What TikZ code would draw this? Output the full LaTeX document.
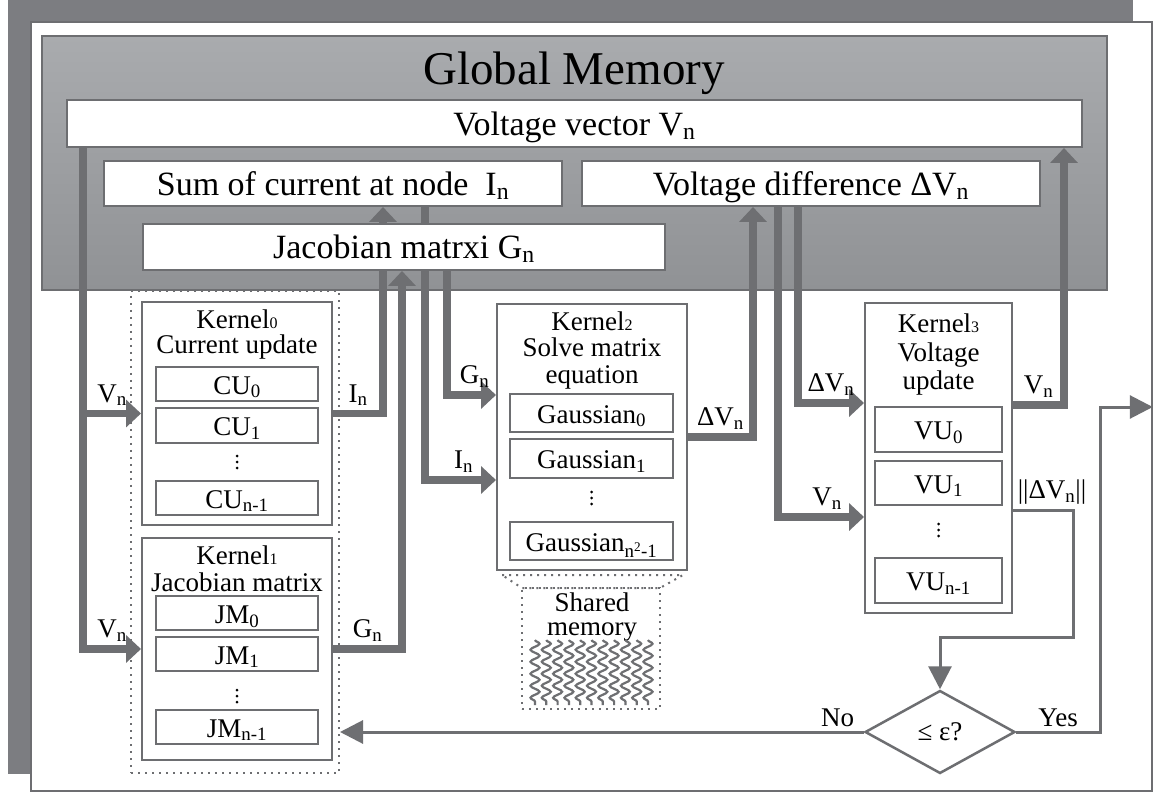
\documentclass[tikz,border=0pt]{standalone}
\usepackage{fontspec}
\setmainfont{Liberation Serif}
\usetikzlibrary{positioning,arrows.meta,shapes.geometric,decorations.pathmorphing}
\definecolor{agray}{HTML}{6E6F72}
\definecolor{lgray}{HTML}{6D6E71}
\definecolor{sgray}{HTML}{7C7D81}
\definecolor{gmtop}{HTML}{A9ABAE}
\definecolor{gmbot}{HTML}{909295}
\newcommand{\fGM}{\fontsize{47}{50}\selectfont}
\newcommand{\fMid}{\fontsize{34}{36}\selectfont}
\newcommand{\fLbl}{\fontsize{27}{28}\selectfont}
\newcommand{\sbs}[1]{\textsubscript{#1}}
\newcommand{\knum}[1]{{\fontsize{16}{16}\selectfont #1}}
\pgfdeclarelayer{bg}
\pgfdeclarelayer{arr}
\pgfsetlayers{bg,arr,main}

\begin{document}
\begin{tikzpicture}[x=1pt,y=-1pt,
  wbox/.style={draw=lgray,line width=2pt,fill=white,inner sep=0pt,font=\fMid,text height=27pt,text depth=3pt},
  kbox/.style={draw=lgray,line width=2pt,fill=white,inner sep=0pt},
  ubox/.style={draw=lgray,line width=2pt,fill=white,inner sep=0pt,font=\fLbl,text height=22pt,text depth=2pt},
  ttl/.style={font=\fLbl,anchor=base,inner sep=0pt},
  lbl/.style={font=\fLbl,inner sep=1pt,above,yshift=3pt},
  dotbox/.style={draw=lgray,line width=2pt,dash pattern=on 2pt off 5pt},
  fat/.style={draw=agray,line width=7.5pt,-{Triangle[width=27pt,length=15pt]}},
  slim/.style={draw=agray,line width=3pt,-{Triangle[width=23pt,length=23pt]}}]

\useasboundingbox (0,0) rectangle (1157,794);

\begin{pgfonlayer}{bg}
\fill[sgray] (8,0) rectangle (1133,774);
\node[draw=lgray,line width=1.5pt,fill=white,minimum width=1121pt,minimum height=769pt] (frame) at (591.5,406.5) {};
\node[draw=lgray,line width=2pt,top color=gmtop,bottom color=gmbot,minimum width=1065pt,minimum height=254pt] (gm) at (574.5,163) {};
\node[dotbox,minimum width=208pt,minimum height=482pt] (kdots) at (235,532) {};
\end{pgfonlayer}

\node[font=\fGM,anchor=base] (gmtitle) at (574,85) {Global Memory};

% memory buffers
\node[wbox,minimum width=1015pt,minimum height=47pt] (vvec) at (574.5,123.5) {Voltage vector V\sbs{n}};
\node[wbox,minimum width=458pt,minimum height=45pt] (isum) at (333,183.5) {Sum of current at node~ I\sbs{n}};
\node[wbox,minimum width=458pt,minimum height=45pt] (dvec) at (811,183.5) {Voltage difference ΔV\sbs{n}};
\node[wbox,minimum width=522pt,minimum height=46pt] (jac) at (404,247) {Jacobian matrxi G\sbs{n}};

% kernel 0
\node[kbox,minimum width=190pt,minimum height=223pt] (k0) at (237,413.5) {};
\node[ttl] (k0a) at ([yshift=-28pt]k0.north) {Kernel\knum{0}};
\node[ttl] (k0b) at ([yshift=-53pt]k0.north) {Current update};
\node[ubox,minimum width=162pt,minimum height=34pt] (cu0) at (237,384) {CU\sbs{0}};
\node[ubox,minimum width=162pt,minimum height=35pt] (cu1) at (237,425.5) {CU\sbs{1}};
\coordinate (cudots) at (237,462);
\node[ubox,minimum width=162pt,minimum height=34pt] (cun) at (237,498) {CU\sbs{n-1}};

% kernel 1
\node[kbox,minimum width=190pt,minimum height=222pt] (k1) at (237,649) {};
\node[ttl] (k1a) at ([yshift=-27pt]k1.north) {Kernel\knum{1}};
\node[ttl] (k1b) at ([yshift=-54pt]k1.north) {Jacobian matrix};
\node[ubox,minimum width=162pt,minimum height=34pt] (jm0) at (237,613) {JM\sbs{0}};
\node[ubox,minimum width=162pt,minimum height=34pt] (jm1) at (237,654) {JM\sbs{1}};
\coordinate (jmdots) at (237,696);
\node[ubox,minimum width=162pt,minimum height=34pt] (jmn) at (237,727) {JM\sbs{n-1}};

% kernel 2
\node[kbox,minimum width=190pt,minimum height=266pt] (k2) at (592,437) {};
\node[ttl] (k2a) at ([yshift=-28pt]k2.north) {Kernel\knum{2}};
\node[ttl] (k2b) at ([yshift=-54pt]k2.north) {Solve matrix};
\node[ttl] (k2c) at ([yshift=-80pt]k2.north) {equation};
\node[ubox,minimum width=163pt,minimum height=38pt] (ga0) at (591.5,413) {Gaussian\sbs{0}};
\node[ubox,minimum width=163pt,minimum height=39pt] (ga1) at (591.5,458.5) {Gaussian\sbs{1}};
\coordinate (gadots) at (591.5,498);
\node[ubox,minimum width=163pt,minimum height=38pt] (gan) at (591.5,541) {Gaussian\sbs{n\textsuperscript{2}-1}};

% shared memory
\draw[dotbox] (502,575) -- (683,575) -- (660,588) -- (522,588) -- cycle;
\node[dotbox,minimum width=138pt,minimum height=121pt] (smem) at (591,648.5) {};
\node[ttl] (sm1) at (592,611) {Shared};
\node[ttl] (sm2) at (592,635) {memory};
\foreach \i in {0,...,10}
  \draw[agray,line width=2.2pt,decorate,decoration={snake,segment length=12pt,amplitude=4.5pt}] ({535+\i*11.3},640) -- ++(0,65);

% kernel 3
\node[kbox,minimum width=147pt,minimum height=310pt] (k3) at (938.5,458) {};
\node[ttl] (k3a) at ([yshift=-31pt]k3.north) {Kernel\knum{3}};
\node[ttl] (k3b) at ([yshift=-60pt]k3.north) {Voltage};
\node[ttl] (k3c) at ([yshift=-87pt]k3.north) {update};
\node[ubox,minimum width=127pt,minimum height=45pt] (vu0) at (938.5,429.5) {VU\sbs{0}};
\node[ubox,minimum width=127pt,minimum height=44pt] (vu1) at (938.5,483) {VU\sbs{1}};
\coordinate (vudots) at (938.5,530);
\node[ubox,minimum width=127pt,minimum height=45pt] (vun) at (938.5,580.5) {VU\sbs{n-1}};

% vertical dots
\foreach \c in {cudots,jmdots,gadots,vudots}
  \foreach \d in {-6,0,6}
    \fill ([yshift=\d pt]\c) circle (1.5pt);

% convergence test
\node[draw=lgray,line width=2.5pt,fill=white,diamond,minimum width=150pt,minimum height=83pt,inner sep=0pt,font=\fLbl] (dec) at (940,732) {≤ ε?};

\coordinate (vtap) at ([xshift=17pt]vvec.south west);
\coordinate (itap) at ([xshift=280pt]isum.south west);
\coordinate (gtap) at ([xshift=260pt]jac.south west);
\coordinate (isrc) at ([xshift=322pt]isum.south west);
\coordinate (gsrc) at ([xshift=305pt]jac.south west);
\coordinate (dtap) at ([xshift=172pt]dvec.south west);
\coordinate (vsrc) at ([xshift=197pt]dvec.south west);
\coordinate (dsrc) at ([xshift=217pt]dvec.south west);
\coordinate (vback) at ([xshift=998pt]vvec.south west);
\coordinate (nbend) at (1073,637);
\coordinate (ybend) at (1100,407);

\begin{pgfonlayer}{arr}
\draw[fat] (vtap) |- node[lbl,pos=.75]{V\sbs{n}} (k1.west);
\draw[fat] (vtap |- k0.west) -- node[lbl]{V\sbs{n}} (k0.west);
\draw[fat] (k0.east) -| node[lbl,pos=.25]{I\sbs{n}} (itap);
\draw[fat] (k1.east) -| node[lbl,pos=.25]{G\sbs{n}} (gtap);
\draw[fat] (gsrc) |- node[lbl,pos=.75,xshift=3pt]{G\sbs{n}} ([yshift=42pt]k2.west);
\draw[fat] (isrc) |- node[lbl,pos=.75,xshift=3pt]{I\sbs{n}} ([yshift=-43pt]k2.west);
\draw[fat] (k2.east) -| node[lbl,pos=.25]{ΔV\sbs{n}} (dtap);
\draw[fat] (dsrc) |- node[lbl,pos=.75]{ΔV\sbs{n}} ([yshift=55pt]k3.west);
\draw[fat] (vsrc) |- node[lbl,pos=.75,xshift=6pt]{V\sbs{n}} ([yshift=-59pt]k3.west);
\draw[fat] ([yshift=53pt]k3.east) -| node[lbl,pos=.25]{V\sbs{n}} (vback);
\draw[slim] ([yshift=-52pt]k3.east) -| node[lbl,pos=.25,xshift=9pt]{||ΔV\sbs{n}||} (nbend) -| (dec.north);
\draw[slim] (dec.west) -- node[lbl,pos=.05]{No} (dec.west -| kdots.east);
\draw[slim] (dec.east) -| node[lbl,pos=.25]{Yes} (ybend) -- (ybend -| frame.east);
\end{pgfonlayer}
\end{tikzpicture}
\end{document}
